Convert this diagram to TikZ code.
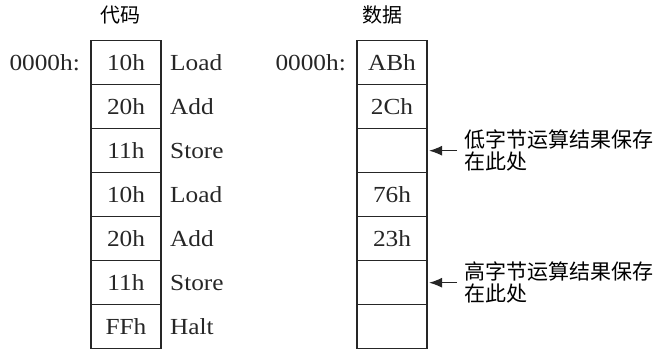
\documentclass[tikz,border=0pt]{standalone}
\usepackage{fontspec}
\setmainfont[FakeStretch=1.1]{Liberation Serif}
\newfontfamily\cjk{Noto Sans CJK SC}
\usetikzlibrary{positioning,arrows.meta}

\begin{document}
\begin{tikzpicture}[x=1pt,y=-1pt,
    font=\fontsize{23}{25}\selectfont,
    cell/.style={draw=black!85,line width=1.2pt,minimum width=70pt,minimum height=44pt,
                 inner sep=0pt,outer sep=0pt,text=black!85},
    op/.style={inner sep=0pt,text=black!85},
    addr/.style={inner sep=0pt,text=black!85},
    title/.style={font=\cjk\fontsize{20}{22}\selectfont,inner sep=0pt},
    note/.style={font=\cjk\fontsize{21}{22}\selectfont,align=left,inner sep=0pt},
    ptr/.style={-{Latex[length=13pt,width=10pt]},line width=1.3pt,draw=black!85}
  ]
  \useasboundingbox (0,0) rectangle (661,351);

  % code column
  \node[cell] (c1) at (126,62.7) {10h};
  \node[cell,below=0pt of c1] (c2) {20h};
  \node[cell,below=0pt of c2] (c3) {11h};
  \node[cell,below=0pt of c3] (c4) {10h};
  \node[cell,below=0pt of c4] (c5) {20h};
  \node[cell,below=0pt of c5] (c6) {11h};
  \node[cell,below=0pt of c6] (c7) {FFh};

  \node[title,above=16pt of c1,xshift=-6pt] (codetitle) {代码};
  \node[addr,left=11pt of c1] (caddr) {0000h:};

  \node[op,right=9pt of c1] (o1) {Load};
  \node[op,right=9pt of c2] (o2) {Add};
  \node[op,right=9pt of c3] (o3) {Store};
  \node[op,right=9pt of c4] (o4) {Load};
  \node[op,right=9pt of c5] (o5) {Add};
  \node[op,right=9pt of c6] (o6) {Store};
  \node[op,right=9pt of c7] (o7) {Halt};

  % data column
  \node[cell] (d1) at (392,62.7) {ABh};
  \node[cell,below=0pt of d1] (d2) {2Ch};
  \node[cell,below=0pt of d2] (d3) {};
  \node[cell,below=0pt of d3] (d4) {76h};
  \node[cell,below=0pt of d4] (d5) {23h};
  \node[cell,below=0pt of d5] (d6) {};
  \node[cell,below=0pt of d6] (d7) {};

  \node[title,above=16pt of d1,xshift=-10pt] (datatitle) {数据};
  \node[addr,left=11pt of d1] (daddr) {0000h:};

  % result notes
  \node[note,right=37pt of d3] (lonote) {低字节运算结果保存\\在此处};
  \node[note,right=37pt of d6] (hinote) {高字节运算结果保存\\在此处};

  \draw[ptr] ([xshift=-7pt]lonote.west) -- ([xshift=2pt]d3.east);
  \draw[ptr] ([xshift=-7pt]hinote.west) -- ([xshift=2pt]d6.east);

\end{tikzpicture}
\end{document}
